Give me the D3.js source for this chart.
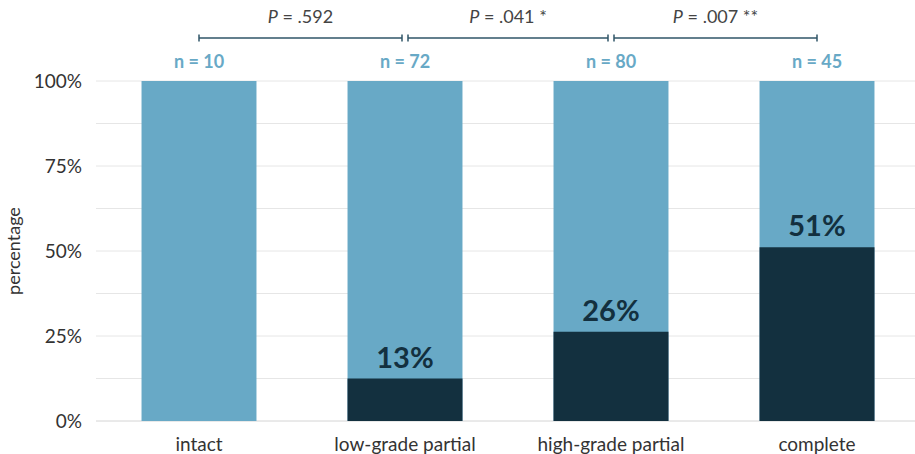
<!DOCTYPE html>
<html>
<head>
<meta charset="utf-8">
<script src="https://cdn.jsdelivr.net/npm/d3@7"></script>
<style>
  body { margin: 0; background: #fff; }
  svg { display: block; font-family: Lato, 'Noto Sans', sans-serif; }
</style>
</head>
<body>
<div id="chart"></div>
<script>
const categories = ['intact', 'low-grade partial', 'high-grade partial', 'complete']
const counts = [10, 72, 80, 45]
const darkShare = [0, 0.125, 0.2625, 0.511]
const shareLabels = ['', '13%', '26%', '51%']
const pLabels = [['P', ' = .592'], ['P', ' = .041 *'], ['P', ' = .007 **']]
const yTicks = [0, 0.25, 0.5, 0.75, 1]

const width = 915
const height = 454
const light = '#68a9c6'
const dark = '#13303f'

const svg = d3.select('#chart').append('svg')
  .attr('width', width)
  .attr('height', height)

const x = d3.scaleBand()
  .domain(categories)
  .range([96, 920])
  .paddingInner(0.442)
  .paddingOuter(0.221)

const y = d3.scaleLinear().domain([0, 1]).range([421, 81])

// grid lines every 12.5%
svg.append('g')
  .selectAll('line')
  .data(d3.range(0, 1.0001, 0.125))
  .join('line')
  .attr('x1', 96)
  .attr('x2', width)
  .attr('y1', d => y(d))
  .attr('y2', d => y(d))
  .attr('stroke', d => d === 0 ? '#d4d4d4' : '#e6e6e6')
  .attr('stroke-width', 1)

// y axis labels
const yAxis = svg.append('g')
  .attr('transform', 'translate(82,0)')
  .call(d3.axisLeft(y).tickValues(yTicks).tickFormat(d3.format('.0%')).tickSize(0).tickPadding(0))
yAxis.select('.domain').remove()
yAxis.selectAll('text')
  .attr('font-size', 19)
  .attr('fill', '#333')
  .attr('font-family', 'Lato, sans-serif')

svg.append('text')
  .attr('transform', `translate(20,${y(0.5)}) rotate(-90)`)
  .attr('text-anchor', 'middle')
  .attr('font-size', 18)
  .attr('fill', '#333')
  .text('percentage')

// x axis labels
const xAxis = svg.append('g')
  .attr('transform', `translate(0,${y(0)})`)
  .call(d3.axisBottom(x).tickSize(0).tickPadding(17))
xAxis.select('.domain').remove()
xAxis.selectAll('text')
  .attr('font-size', 19)
  .attr('fill', '#333')
  .attr('font-family', 'Lato, sans-serif')

// bars
const bars = svg.append('g')
  .selectAll('g')
  .data(categories)
  .join('g')

bars.append('rect')
  .attr('x', d => x(d))
  .attr('width', x.bandwidth())
  .attr('y', y(1))
  .attr('height', y(0) - y(1))
  .attr('fill', light)

bars.append('rect')
  .attr('x', d => x(d))
  .attr('width', x.bandwidth())
  .attr('y', (d, i) => y(darkShare[i]))
  .attr('height', (d, i) => y(0) - y(darkShare[i]))
  .attr('fill', dark)

bars.append('text')
  .attr('x', d => x(d) + x.bandwidth() / 2)
  .attr('y', (d, i) => y(darkShare[i]) - 11)
  .attr('text-anchor', 'middle')
  .attr('font-size', 29)
  .attr('font-weight', 'bold')
  .attr('fill', dark)
  .text((d, i) => shareLabels[i])

// n labels
bars.append('text')
  .attr('x', d => x(d) + x.bandwidth() / 2)
  .attr('y', 68)
  .attr('text-anchor', 'middle')
  .attr('font-size', 18)
  .attr('font-weight', 'bold')
  .attr('fill', light)
  .text((d, i) => `n = ${counts[i]}`)

// significance brackets
const bracket = svg.append('g')
  .selectAll('g')
  .data(pLabels)
  .join('g')

const bx0 = i => x(categories[i]) + x.bandwidth() / 2 + (i === 0 ? 0 : 3)
const bx1 = i => x(categories[i + 1]) + x.bandwidth() / 2 - 3 + (i === 2 ? 3 : 0)

bracket.append('line')
  .attr('x1', (d, i) => bx0(i))
  .attr('x2', (d, i) => bx1(i))
  .attr('y1', 38).attr('y2', 38)
  .attr('stroke', '#2f5567').attr('stroke-width', 1.5)

bracket.append('line')
  .attr('x1', (d, i) => bx0(i)).attr('x2', (d, i) => bx0(i))
  .attr('y1', 34.5).attr('y2', 41.5)
  .attr('stroke', '#2f5567').attr('stroke-width', 1.5)

bracket.append('line')
  .attr('x1', (d, i) => bx1(i)).attr('x2', (d, i) => bx1(i))
  .attr('y1', 34.5).attr('y2', 41.5)
  .attr('stroke', '#2f5567').attr('stroke-width', 1.5)

const pText = bracket.append('text')
  .attr('x', (d, i) => (bx0(i) + bx1(i)) / 2)
  .attr('y', 23)
  .attr('text-anchor', 'middle')
  .attr('font-size', 18)
  .attr('fill', '#444')

pText.append('tspan').attr('font-style', 'italic').text(d => d[0])
pText.append('tspan').text(d => d[1])
</script>
</body>
</html>
